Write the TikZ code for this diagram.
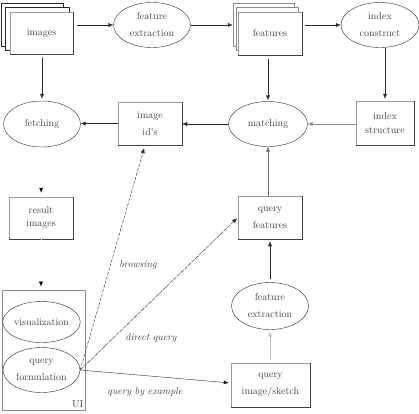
\documentclass[tikz,border=0pt]{standalone}
\usetikzlibrary{arrows.meta,shapes.geometric}
\begin{document}
\begin{tikzpicture}[x=1pt,y=-1pt,
  lbl/.style={font=\fontsize{10}{17}\selectfont, text=black!75, align=center},
  boxn/.style={lbl, draw=black!40, fill=white, rectangle, inner sep=0pt},
  ovaln/.style={lbl, draw=black!85, ellipse, inner sep=0pt},
  backbox/.style={draw=black!85, fill=white},
  arr/.style={draw=black!85, -{Latex[length=5pt,width=4pt]}},
  faint/.style={draw=black!2, -{Latex[length=5pt,width=4pt,black]}},
  edgelbl/.style={font=\itshape\fontsize{10}{12}\selectfont, text=black!75}]
\useasboundingbox (0,0) rectangle (419,413);
% images stack
\draw[backbox] (1,3) rectangle (63,46);
\draw[backbox] (5,7) rectangle (69,50);
\node[boxn, minimum width=63pt, minimum height=42pt] (images) at (41.5,33) {images};
% features stack
\draw[backbox, draw=black!45] (233,3) rectangle (294,46);
\draw[backbox, draw=black!45] (236,7) rectangle (298,50);
\node[boxn, minimum width=64pt, minimum height=43pt] (features) at (270,33.5) {features};
% ellipses
\node[ovaln, minimum width=77pt, minimum height=45pt] (fe1) at (152,25) {feature\\extraction};
\node[ovaln, minimum width=78pt, minimum height=45pt] (ic) at (380,25) {index\\construct};
\node[ovaln, minimum width=77pt, minimum height=46pt] (fetch) at (42,124) {fetching};
\node[ovaln, minimum width=79pt, minimum height=45pt] (match) at (268,124) {matching};
\node[ovaln, minimum width=77pt, minimum height=47pt] (fe2) at (270,306) {feature\\extraction};
% boxes
\node[boxn, minimum width=64pt, minimum height=43pt] (ids) at (150,123.5) {image\\id's};
\node[boxn, minimum width=58pt, minimum height=44pt, font=\fontsize{10}{14}\selectfont] (is) at (385,123) {index\\structure};
\node[boxn, minimum width=64pt, minimum height=42pt, font=\fontsize{10}{13}\selectfont] (res) at (41,218) {result\\images};
\node[boxn, minimum width=64pt, minimum height=43pt] (qf) at (270,217.5) {query\\features};
\node[boxn, minimum width=79pt, minimum height=44pt] (qis) at (270.5,385) {query\\image/sketch};
% UI
\node[draw=black!45, line width=0.8pt, rectangle, minimum width=83pt, minimum height=120pt, inner sep=0pt] (ui) at (43.5,350) {};
\node[ovaln, minimum width=77pt, minimum height=41pt] (vis) at (41.5,322) {visualization};
\node[ovaln, minimum width=77pt, minimum height=45pt] (qform) at (41.5,370) {query\\formulation};
\node[lbl, anchor=south east, inner sep=2pt] (uil) at (ui.south east) {UI};
% dark right/bottom edges
\foreach \n in {images,features,ids,is,res,qf,qis}
  \draw[black!75] (\n.north east) -- (\n.south east) -- (\n.south west);
% arrows
\draw[arr, shorten <=4pt] (images.east |- fe1.west) -- (fe1.west);
\draw[arr, shorten >=5pt] (fe1.east) -- (features.west |- fe1.east);
\draw[arr, shorten <=3pt] (features.east |- ic.west) -- (ic.west);
\draw[arr, shorten <=4pt, shorten >=2pt] (images.south -| fetch.north) -- (fetch.north);
\draw[arr, shorten <=4pt, shorten >=1pt] (features.south -| match.north) -- (match.north);
\draw[arr, shorten >=2pt] (ic.south -| is.north) -- (is.north);
\draw[arr, draw=black!45] (is.west |- match.east) -- (match.east);
\draw[arr] (match.west) -- (ids.east |- match.west);
\draw[arr] (ids.west) -- (fetch.east |- ids.west);
\draw[faint, shorten >=4pt] (fetch.south) -- (res.north);
\draw[faint, shorten >=3pt] (res.south) -- (ui.north -| res.south);
\draw[arr, draw=black!60] (qf.north -| match.south) -- (match.south);
\draw[arr, shorten <=3pt, shorten >=2pt] (fe2.north) -- (qf.south -| fe2.north);
\draw[arr, draw=black!25, shorten <=3pt, shorten >=2pt] (qis.north -| fe2.south) -- (fe2.south);
% query lines
\coordinate (qo) at (qform.east);
\draw[arr, dashed, dash pattern=on 3pt off 1.5pt, shorten >=3pt] (qo) -- (ids.south -| 145,0);
\draw[arr, dash pattern=on 4pt off 1pt, shorten >=1pt] (qo) -- (qf.west);
\draw[arr, shorten >=2pt] (qo) -- (qis.west |- 0,383);
% labels
\node[edgelbl] (lb) at (138,265) {browsing};
\node[edgelbl] (ld) at (151,338) {direct query};
\node[edgelbl] (le) at (145,392) {query by example};
\end{tikzpicture}
\end{document}
